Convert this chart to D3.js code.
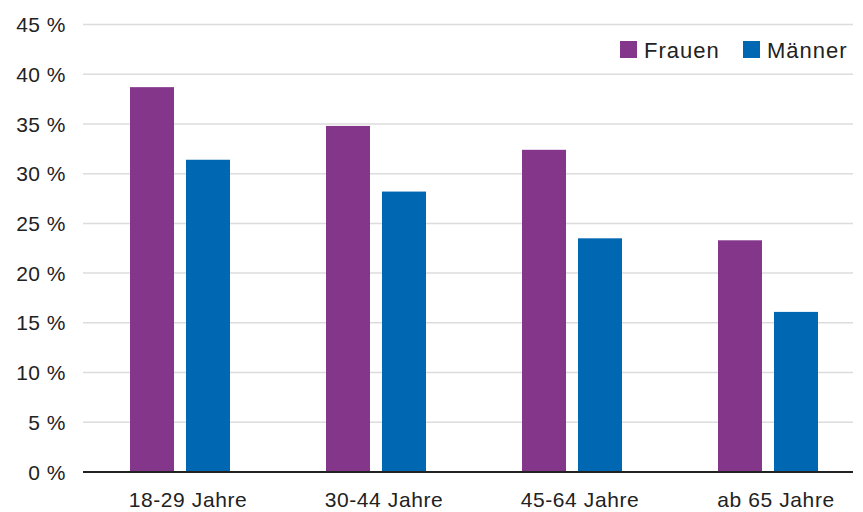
<!DOCTYPE html>
<html>
<head>
<meta charset="utf-8">
<script src="https://cdn.jsdelivr.net/npm/d3@7"></script>
<style>
  body { margin: 0; background: #fff; }
  svg { font-family: "Liberation Sans", Arial, sans-serif; }
</style>
</head>
<body>
<svg id="chart" width="863" height="512"></svg>
<script>
const categories = ["18-29 Jahre", "30-44 Jahre", "45-64 Jahre", "ab 65 Jahre"];
const seriesNames = ["Frauen", "Männer"];
const frauen = [38.7, 34.8, 32.4, 23.3];
const maenner = [31.4, 28.2, 23.5, 16.1];
const yTicks = [0, 5, 10, 15, 20, 25, 30, 35, 40, 45];

const colors = { "Frauen": "#84368b", "Männer": "#0067b3" };

const data = categories.map((c, i) => ({ cat: c, Frauen: frauen[i], "Männer": maenner[i] }));

const svg = d3.select("#chart");
const plotLeft = 83, plotRight = 867, plotTop = 24.5, plotBottom = 472;

const x = d3.scaleBand().domain(categories).range([plotLeft, plotRight]).paddingInner(0).paddingOuter(0);
// zwei Balken je Gruppe, 44px breit, 12px Abstand
const xInner = d3.scaleBand().domain(seriesNames).range([47, 147]).paddingInner(0.214);
const y = d3.scaleLinear().domain([0, 45]).range([plotBottom, plotTop]);

// gridlines
svg.append("g")
  .selectAll("line")
  .data(yTicks.filter(d => d > 0))
  .join("line")
  .attr("x1", plotLeft).attr("x2", 853)
  .attr("y1", d => y(d)).attr("y2", d => y(d))
  .attr("stroke", "#dcdcdc")
  .attr("stroke-width", 1.5);

// y labels
svg.append("g")
  .selectAll("text")
  .data(yTicks)
  .join("text")
  .attr("x", 66)
  .attr("y", d => y(d))
  .attr("dy", "0.36em")
  .attr("text-anchor", "end")
  .attr("font-size", 21)
  .attr("letter-spacing", 0.5)
  .attr("fill", "#222")
  .text(d => d + " %");

// bars
const groups = svg.append("g")
  .selectAll("g")
  .data(data)
  .join("g")
  .attr("transform", d => "translate(" + x(d.cat) + ",0)");

groups.selectAll("rect")
  .data(d => seriesNames.map(s => ({ s: s, v: d[s] })))
  .join("rect")
  .attr("x", d => xInner(d.s))
  .attr("width", xInner.bandwidth())
  .attr("y", d => y(d.v))
  .attr("height", d => y(0) - y(d.v))
  .attr("fill", d => colors[d.s]);

// baseline
svg.append("line")
  .attr("x1", plotLeft).attr("x2", 853)
  .attr("y1", y(0)).attr("y2", y(0))
  .attr("stroke", "#222")
  .attr("stroke-width", 2);

// x labels
svg.append("g")
  .selectAll("text")
  .data(categories)
  .join("text")
  .attr("x", d => x(d) + x.bandwidth() / 2 + 7)
  .attr("y", 507)
  .attr("text-anchor", "middle")
  .attr("font-size", 21)
  .attr("letter-spacing", 0.6)
  .attr("fill", "#222")
  .text(d => d);

// legend
const legendX = [620, 743];
const legend = svg.append("g")
  .selectAll("g")
  .data(seriesNames)
  .join("g")
  .attr("transform", (d, i) => "translate(" + legendX[i] + ",41)");

legend.append("rect")
  .attr("width", 17).attr("height", 17)
  .attr("fill", d => colors[d]);

legend.append("text")
  .attr("x", 24)
  .attr("y", 17)
  .attr("font-size", 22)
  .attr("letter-spacing", 1)
  .attr("fill", "#222")
  .text(d => d);
</script>
</body>
</html>
